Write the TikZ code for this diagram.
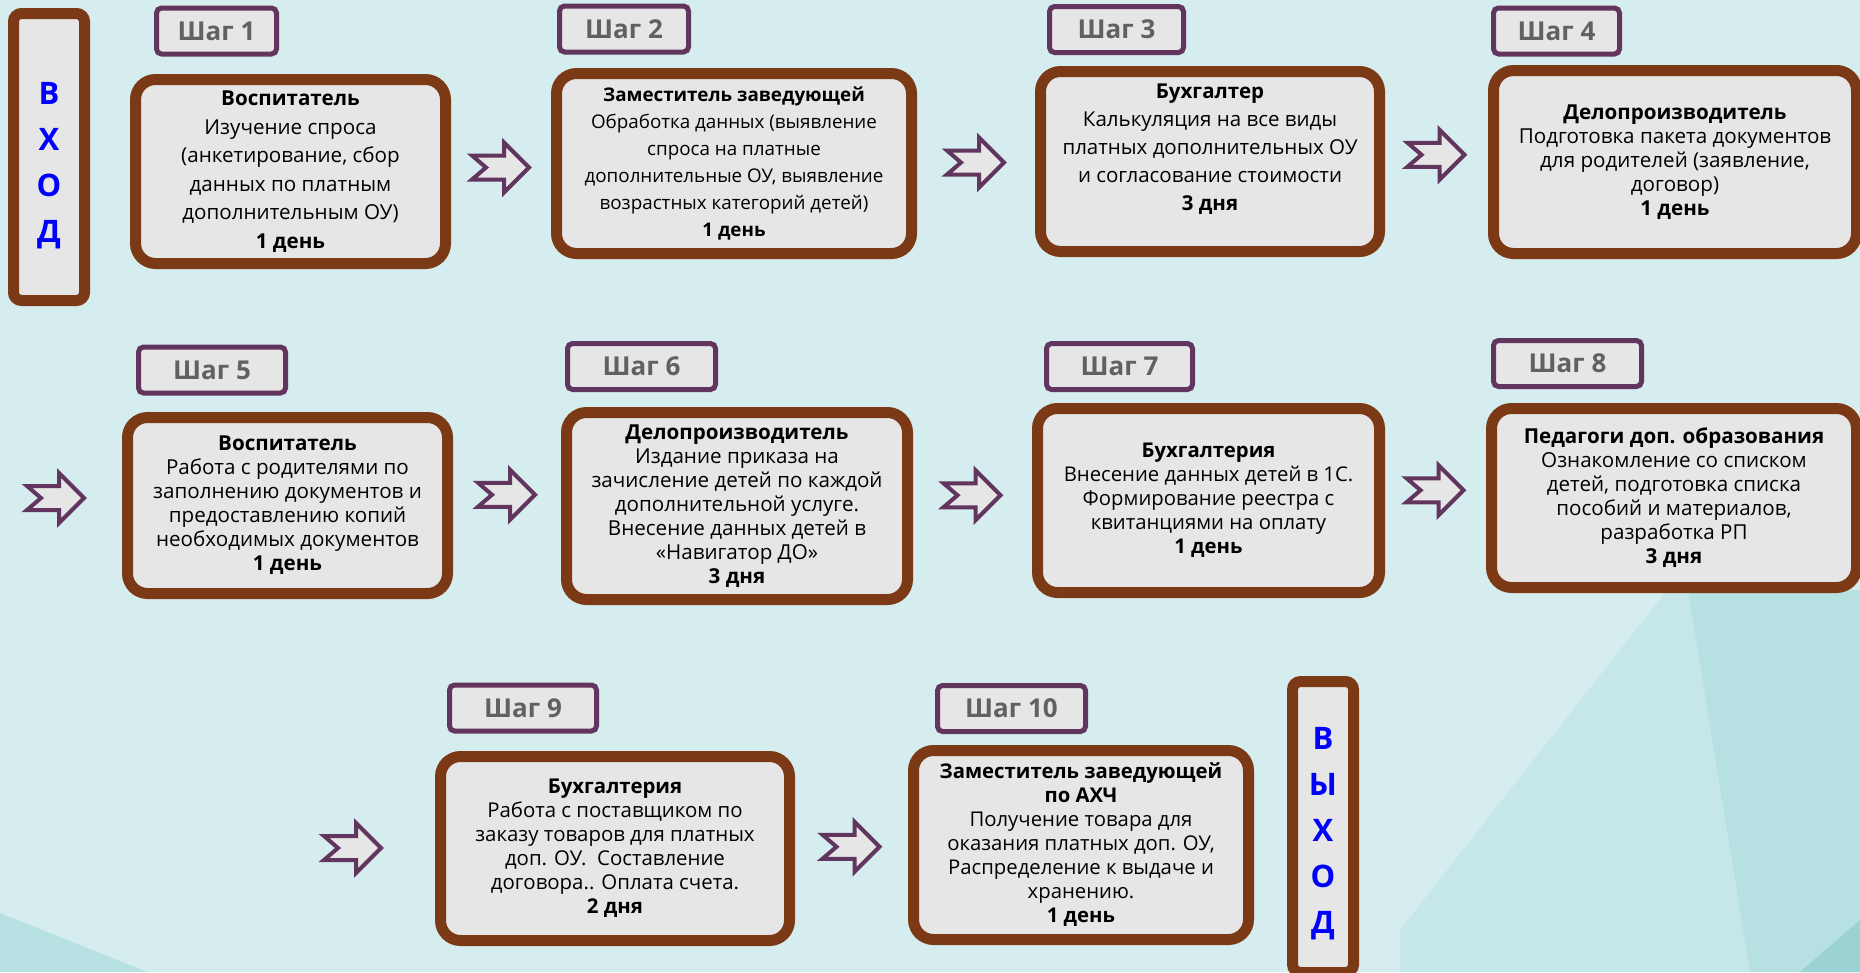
\documentclass[tikz,border=0pt]{standalone}
\usepackage{fontspec}
\setmainfont{Open Sans}
\usepackage{tikz}
\usetikzlibrary{calc}

\definecolor{fon}{HTML}{D5EDEF}
\definecolor{fontemn}{HTML}{C6E7E9}
\definecolor{fongran}{HTML}{B6E0E2}
\definecolor{korich}{HTML}{7B3915}
\definecolor{fiolet}{HTML}{62355F}
\definecolor{seryj}{HTML}{E6E6E6}
\definecolor{shagtext}{HTML}{616161}

\tikzset{
  etap/.style={draw=korich, line width=11pt, fill=seryj, rounded corners=20pt, align=center, inner sep=0pt},
  shag/.style={draw=fiolet, line width=5pt, fill=seryj, rounded corners=5pt, minimum height=46pt, inner sep=0pt, text=shagtext, font=\bfseries\fontsize{26}{30}\selectfont},
  vhod/.style={draw=korich, line width=11pt, fill=seryj, rounded corners=8pt, inner sep=0pt},
  bukvy/.style={text=blue, align=center, inner sep=0pt, font=\bfseries\fontsize{31}{46}\selectfont},
  strelka/.pic={\draw[fiolet, line width=4pt, fill=seryj] (-29,-12) -- (3,-12) -- (3,-25) -- (28,0) -- (3,25) -- (3,12) -- (-29,12) -- (-15,0) -- cycle;}
}

\begin{document}
\begin{tikzpicture}[x=1pt,y=-1pt]
\useasboundingbox (0,0) rectangle (1860,972);
\clip (0,0) rectangle (1860,972);
% Фон
\fill[fon] (0,0) rectangle (1860,972);
\fill[fontemn] (1667,590) -- (1860,590) -- (1860,972) -- (1400,972) -- (1400,930) -- cycle;
\fill[fongran] (1688,590) -- (1860,590) -- (1860,972) -- (1750,972) -- cycle;
\fill[fongran!85!teal] (1860,920) -- (1860,972) -- (1800,972) -- cycle;
\fill[fongran] (0,913) -- (147,972) -- (0,972) -- cycle;

% Вход и выход
\node[vhod, minimum width=71pt, minimum height=287pt] (vhod) at (49,157) {};
\node[bukvy] (vhodtxt) at (49,166) {В\\Х\\О\\Д};
\node[vhod, minimum width=61pt, minimum height=291pt] (vyhod) at (1323,827) {};
\node[bukvy] (vyhodtxt) at (1323,834) {В\\Ы\\Х\\О\\Д};

% Шаги
\node[shag, minimum width=120pt] (s1) at (216.5,31) {Шаг 1};
\node[shag, minimum width=129pt] (s2) at (624,29) {Шаг 2};
\node[shag, minimum width=134pt] (s3) at (1116.5,29.5) {Шаг 3};
\node[shag, minimum width=126pt] (s4) at (1556.5,31) {Шаг 4};
\node[shag, minimum width=147pt] (s5) at (212,370) {Шаг 5};
\node[shag, minimum width=148pt] (s6) at (641.5,366.5) {Шаг 6};
\node[shag, minimum width=146pt] (s7) at (1119.5,366.5) {Шаг 7};
\node[shag, minimum width=148pt] (s8) at (1567.5,363.5) {Шаг 8};
\node[shag, minimum width=147pt] (s9) at (523,708) {Шаг 9};
\node[shag, minimum width=148pt] (s10) at (1011.5,708.5) {Шаг 10};

% Этапы
\node[etap, minimum width=310pt, minimum height=184pt, font=\fontsize{20.6}{28.5}\selectfont] (b1) at (290.5,171.5)
  {\textbf{Воспитатель}\\Изучение спроса\\(анкетирование, сбор\\данных по платным\\дополнительным ОУ)\\\textbf{1 день}};
\node[etap, minimum width=355pt, minimum height=180pt, font=\fontsize{18.8}{27}\selectfont] (b2) at (734,163.5)
  {\textbf{Заместитель заведующей}\\Обработка данных (выявление\\спроса на платные\\дополнительные ОУ, выявление\\возрастных категорий детей)\\\textbf{1 день}};
\node[etap, minimum width=339pt, minimum height=180pt, font=\fontsize{20.5}{28}\selectfont] (b3) at (1210,161.5)
  {\textbf{Бухгалтер}\\Калькуляция на все виды\\платных дополнительных ОУ\\и согласование стоимости\\\textbf{3 дня}\\\mbox{}};
\node[etap, minimum width=363pt, minimum height=183pt, font=\fontsize{20.6}{24}\selectfont] (b4) at (1675,162)
  {\textbf{Делопроизводитель}\\Подготовка пакета документов\\для родителей (заявление,\\договор)\\\textbf{1 день}};
\node[etap, minimum width=320pt, minimum height=176pt, font=\fontsize{20.6}{24}\selectfont] (b5) at (287.5,505.5)
  {\textbf{Воспитатель}\\Работа с родителями по\\заполнению документов и\\предоставлению копий\\необходимых документов\\\textbf{1 день}};
\node[etap, minimum width=341pt, minimum height=187pt, font=\fontsize{20.6}{24}\selectfont] (b6) at (737,506)
  {\textbf{Делопроизводитель}\\Издание приказа на\\зачисление детей по каждой\\дополнительной услуге.\\Внесение данных детей в\\«Навигатор ДО»\\\textbf{3 дня}};
\node[etap, minimum width=342pt, minimum height=184pt, font=\fontsize{20.3}{24}\selectfont] (b7) at (1208.5,500.5)
  {\textbf{Бухгалтерия}\\Внесение данных детей в 1С.\\Формирование реестра с\\квитанциями на оплату\\\textbf{1 день}};
\node[etap, minimum width=365pt, minimum height=179pt, font=\fontsize{20.6}{24}\selectfont] (b8) at (1674,498)
  {\textbf{Педагоги доп. образования}\\Ознакомление со списком\\детей, подготовка списка\\пособий и материалов,\\разработка РП\\\textbf{3 дня}};
\node[etap, minimum width=349pt, minimum height=184pt, font=\fontsize{20.4}{24}\selectfont] (b9) at (615,848.5)
  {\textbf{Бухгалтерия}\\Работа с поставщиком по\\заказу товаров для платных\\доп. ОУ.\ \ Составление\\договора.. Оплата счета.\\\textbf{2 дня}};
\node[etap, minimum width=335pt, minimum height=189pt, font=\fontsize{20.3}{24}\selectfont] (b10) at (1081,845)
  {\textbf{Заместитель заведующей}\\\textbf{по АХЧ}\\Получение товара для\\оказания платных доп. ОУ,\\Распределение к выдаче и\\хранению.\\\textbf{1 день}};

% Стрелки
\pic at ($(b1.east)!0.5!(b2.west)$) {strelka};
\pic at ($(b2.east)!0.5!(b3.west)$) {strelka};
\pic at ($(b3.east)!0.5!(b4.west)+(0,-7)$) {strelka};
\pic at (56,498) {strelka};
\pic at ($(b5.east)!0.5!(b6.west)+(0,-11)$) {strelka};
\pic at ($(b6.east)!0.5!(b7.west)+(0,-8)$) {strelka};
\pic at ($(b7.east)!0.5!(b8.west)+(0,-9)$) {strelka};
\pic at (353,848) {strelka};
\pic at ($(b9.east)!0.5!(b10.west)$) {strelka};
\end{tikzpicture}
\end{document}
